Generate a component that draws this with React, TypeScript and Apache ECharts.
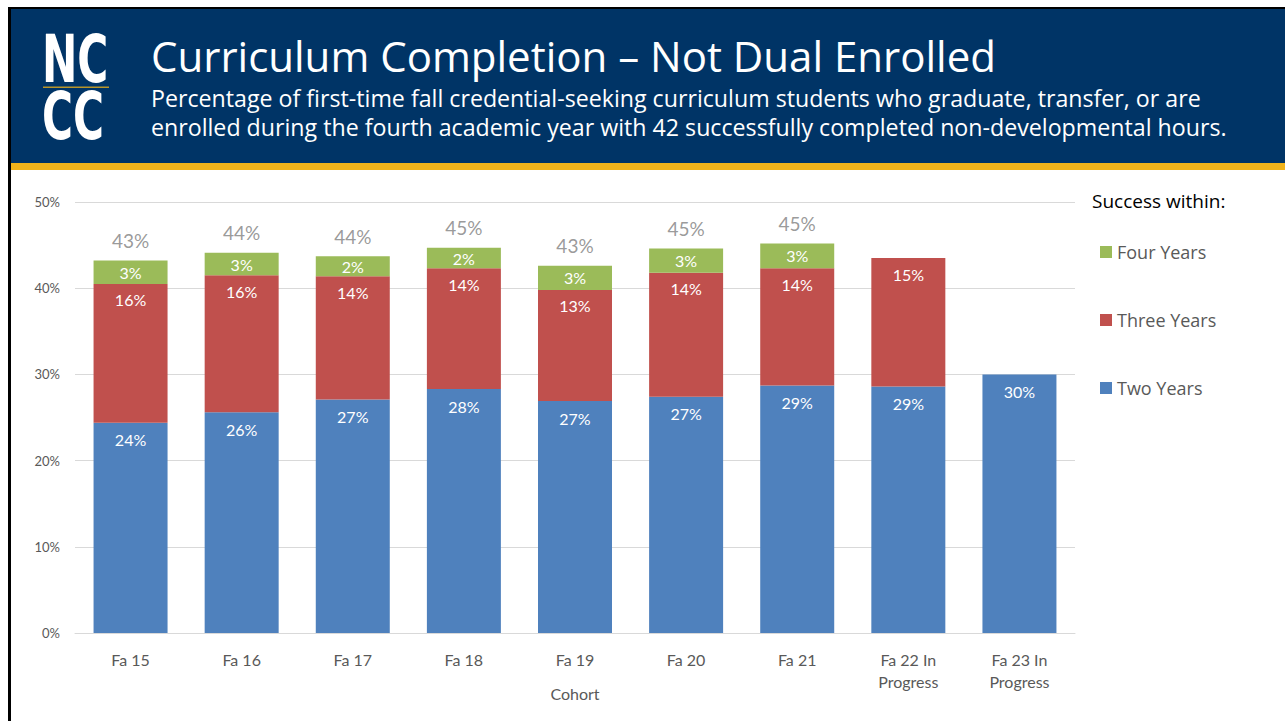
import React, { useEffect, useRef } from "react";
import * as echarts from "echarts";

const categories = [
  "Fa 15",
  "Fa 16",
  "Fa 17",
  "Fa 18",
  "Fa 19",
  "Fa 20",
  "Fa 21",
  "Fa 22 In\nProgress",
  "Fa 23 In\nProgress",
];
const twoYears = [24.4, 25.6, 27.1, 28.3, 26.9, 27.4, 28.7, 28.6, 30.0];
const threeYears: (number | null)[] = [16.1, 15.9, 14.3, 14.0, 12.9, 14.4, 13.6, 14.9, null];
const fourYears: (number | null)[] = [2.7, 2.6, 2.3, 2.4, 2.8, 2.8, 2.9, null, null];
const yTicks = { min: 0, max: 50, interval: 10 };

const titleText = "Curriculum Completion \u2013 Not Dual Enrolled";
const subtitleLine1 =
  "Percentage of first-time fall credential-seeking curriculum students who graduate, transfer, or are";
const subtitleLine2 =
  "enrolled during the fourth academic year with 42 successfully completed non-developmental hours.";

const totals = categories.map((_, i) =>
  fourYears[i] == null ? null : twoYears[i] + (threeYears[i] || 0) + (fourYears[i] || 0)
);

const FONT = "Lato, 'Open Sans', sans-serif";
const OPEN = "'Open Sans', sans-serif";

export default function App() {
  const ref = useRef<HTMLDivElement>(null);
  useEffect(() => {
    document.body.style.margin = "0";
    if (!ref.current) return;
    const chart = echarts.init(ref.current, undefined, { renderer: "svg" });
    const pct = (p: any) => (p.value == null ? "" : `${Math.round(p.value)}%`);
    chart.setOption({
      animation: false,
      backgroundColor: "#ffffff",
      textStyle: { fontFamily: FONT },
      grid: { left: 75, right: 210, top: 202, bottom: 88, containLabel: false },
      legend: {
        orient: "vertical",
        left: 1095,
        top: 237,
        itemWidth: 12,
        itemHeight: 12,
        itemGap: 48,
        icon: "rect",
        data: ["Four Years", "Three Years", "Two Years"],
        textStyle: { fontSize: 18, color: "#595959", fontFamily: OPEN, lineHeight: 20 },
      },
      xAxis: {
        type: "category",
        data: categories,
        axisTick: { show: false },
        axisLine: { lineStyle: { color: "#d9d9d9", width: 1 } },
        axisLabel: { color: "#595959", fontSize: 16, margin: 15, lineHeight: 22, fontFamily: FONT },
        name: "Cohort",
        nameLocation: "middle",
        nameGap: 52,
        nameMoveOverlap: false,
        nameTextStyle: { color: "#595959", fontSize: 16, fontFamily: FONT },
      },
      yAxis: {
        type: "value",
        min: yTicks.min,
        max: yTicks.max,
        interval: yTicks.interval,
        axisLine: { show: false },
        axisTick: { show: false },
        axisLabel: { formatter: "{value}%", color: "#595959", fontSize: 13, margin: 15, fontFamily: FONT },
        splitLine: { lineStyle: { color: "#d9d9d9", width: 1 } },
      },
      series: [
        {
          name: "Two Years",
          type: "bar",
          stack: "s",
          barWidth: 74,
          data: twoYears,
          itemStyle: { color: "#4f81bd" },
          label: { show: true, position: "insideTop", distance: 9, color: "#ffffff", fontSize: 16, formatter: pct },
        },
        {
          name: "Three Years",
          type: "bar",
          stack: "s",
          barWidth: 74,
          data: threeYears,
          itemStyle: { color: "#c0504d" },
          label: { show: true, position: "insideTop", distance: 8, color: "#ffffff", fontSize: 16, formatter: pct },
        },
        {
          name: "Four Years",
          type: "bar",
          stack: "s",
          barWidth: 74,
          data: fourYears,
          itemStyle: { color: "#9bbb59" },
          label: { show: true, position: "inside", color: "#ffffff", fontSize: 16, formatter: pct },
        },
        {
          name: "Total",
          type: "scatter",
          data: totals,
          symbolSize: 1,
          itemStyle: { color: "rgba(0,0,0,0)" },
          label: { show: true, position: "top", distance: 10, color: "#7f7f7f", fontSize: 19, formatter: pct },
          silent: true,
        },
      ],
      graphic: [
        { type: "rect", shape: { x: 8, y: 7, width: 1277, height: 2 }, style: { fill: "#000000" } },
        { type: "rect", shape: { x: 8, y: 7, width: 3, height: 714 }, style: { fill: "#000000" } },
        { type: "rect", shape: { x: 11, y: 9, width: 1274, height: 154 }, style: { fill: "#003466" } },
        { type: "rect", shape: { x: 11, y: 163, width: 1274, height: 7 }, style: { fill: "#f0b31b" } },
        {
          type: "text",
          x: 42,
          y: 59,
          scaleX: 0.64,
          style: {
            text: "NC",
            fill: "#ffffff",
            font: "bold 66px 'DejaVu Sans'",
            verticalAlign: "middle",
          },
        },
        { type: "rect", shape: { x: 43, y: 86.5, width: 66, height: 1.5 }, style: { fill: "#b8952a" } },
        {
          type: "text",
          x: 42,
          y: 116,
          scaleX: 0.64,
          style: {
            text: "CC",
            fill: "#ffffff",
            font: "bold 66px 'DejaVu Sans'",
            verticalAlign: "middle",
          },
        },
        {
          type: "text",
          x: 151,
          y: 55,
          style: { text: titleText, fill: "#ffffff", font: `42px ${OPEN}`, verticalAlign: "middle" },
        },
        {
          type: "text",
          x: 151,
          y: 98,
          style: { text: subtitleLine1, fill: "#ffffff", font: `23.2px ${OPEN}`, verticalAlign: "middle" },
        },
        {
          type: "text",
          x: 151,
          y: 127,
          style: { text: subtitleLine2, fill: "#ffffff", font: `23.2px ${OPEN}`, verticalAlign: "middle" },
        },
        {
          type: "text",
          x: 1092,
          y: 201,
          style: { text: "Success within:", fill: "#000000", font: `19px ${OPEN}`, verticalAlign: "middle" },
        },
      ],
    });
    return () => chart.dispose();
  }, []);
  return <div ref={ref} style={{ width: 1285, height: 721 }} />;
}
